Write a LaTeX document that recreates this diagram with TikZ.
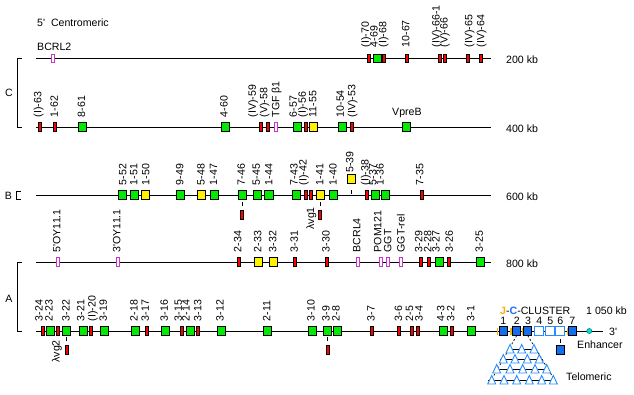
\documentclass[tikz,border=0pt]{standalone}
\usepackage{fontspec}
\setmainfont{Liberation Sans}
\definecolor{vgreen}{RGB}{0,235,0}
\definecolor{pinkc}{RGB}{204,51,204}
\definecolor{cblue}{RGB}{20,110,240}
\definecolor{lblue}{RGB}{40,140,255}
\definecolor{jorange}{RGB}{255,176,0}
\definecolor{enh}{RGB}{0,225,225}
\begin{document}
\begin{tikzpicture}[x=1pt,y=-1pt,font=\fontsize{10.6}{12}\selectfont,
 chrom/.style={line width=1pt},
 el/.style={rectangle,draw=black,line width=0.9pt,inner sep=0pt},
 vr/.style={el,fill=red,minimum width=3.2pt,minimum height=8.2pt},
 vg/.style={el,fill=vgreen,minimum width=8.2pt,minimum height=8.2pt},
 vy/.style={el,fill=yellow,minimum width=8.2pt,minimum height=8.2pt},
 vp/.style={rectangle,draw=pinkc,fill=white,line width=0.9pt,inner sep=0pt,minimum width=3.2pt,minimum height=8.2pt},
 cf/.style={el,fill=cblue,minimum width=8.2pt,minimum height=8.2pt},
 co/.style={rectangle,draw=lblue,fill=white,line width=1pt,inner sep=0pt,minimum width=9.2pt,minimum height=9.2pt},
 jseg/.style={draw=jorange,line width=1.5pt},
 lab/.style={rotate=90,anchor=mid west,inner sep=0pt},
 plab/.style={rotate=90,anchor=mid east,inner sep=0pt},
 txt/.style={anchor=west,inner sep=0pt},
 tick/.style={line width=0.8pt},
 tri/.style={draw=lblue,fill=white,line width=0.9pt},
 brk/.style={line width=1pt}]
\useasboundingbox (0,0) rectangle (634,394);

% header texts
\node[txt] (cen) at (37,23) {5\textquotesingle\ \ Centromeric};
\node[txt] (bcrl2t) at (37,47) {BCRL2};

% brackets
\draw[brk] (22,58.5) -- (17,58.5) -- (17,127) -- (22,127);
\node (lc) at (9,93) {C};
\node (lb) at (8.5,195.5) {B};
\draw[brk] (21,191) -- (16.5,191) -- (16.5,199.5) -- (21,199.5);
\draw[brk] (22,262) -- (17,262) -- (17,331) -- (22,331);
\node (la) at (9,299) {A};

% ---------- line 1 : 200 kb
\coordinate (L1s) at (36,58.5); \coordinate (L1e) at (491,58.5);
\draw[chrom] (L1s) -- (L1e);
\node[txt] (kb200) at (506,60) {200 kb};
\node[vp] (bcrl2) at (53,58.5) {};
\foreach \s/\x/\lx/\t [count=\i] in {vr/369.3/366.3/(I)-70, vg/377.3/375/4-69, vr/384.3/383.8/(I)-68,
  vr/406.7/406.7/10-67, vr/440/437/(IV)-66-1, vr/445.3/445/(V)-66, vr/468.3/469.7/(IV)-65, vr/480.7/481.7/(IV)-64}
 {\node[\s] (a\i) at (\x,58.5) {}; \node[lab] (al\i) at (\lx,47.5) {\t};}

% ---------- line 2 : 400 kb
\coordinate (L2s) at (36,127); \coordinate (L2e) at (491,127);
\draw[chrom] (L2s) -- (L2e);
\node[txt] (kb400) at (506,129) {400 kb};
\foreach \s/\x/\lx/\t [count=\i] in {vr/40/38.7/(I)-63, vr/55/55.3/1-62, vg/82.3/82.5/8-61, vg/225.3/225/4-60,
  vr/261/253.3/(IV)-59, vr/268.3/264.7/(V)-58, vp/276/276.8/TGF β1, vg/297.3/294.2/6-57, vr/306/303.3/(I)-56,
  vy/313.3/313.7/11-55, vg/342.3/341.3/10-54, vr/352/352.8/(IV)-53}
 {\node[\s] (b\i) at (\x,127) {}; \node[lab] (bl\i) at (\lx,117.5) {\t};}
\node[vg] (vpreb) at (406.7,127) {};
\node[txt] (vprebt) at (392,113) {VpreB};

% ---------- line 3 : 600 kb
\coordinate (L3s) at (36,195); \coordinate (L3e) at (491,195);
\draw[chrom] (L3s) -- (L3e);
\node[txt] (kb600) at (506,196.5) {600 kb};
\foreach \s/\x/\lx/\t [count=\i] in {vg/122.7/123.7/5-52, vg/134.3/134.7/1-51, vy/145.3/146.7/1-50, vg/180.3/180.7/9-49,
  vy/201.3/202/5-48, vg/214.3/214.5/1-47, vg/242.3/242.3/7-46, vg/257.3/257.3/5-45, vg/269/269.7/1-44,
  vg/296.3/295/7-43, vr/306/304/(I)-42, vy/320.7/320.7/1-41, vg/333.3/334/1-40, vr/366.7/366/(I)-38,
  vg/375.3/373.7/5-37, vg/385.7/381/1-36, vr/422/420.7/7-35}
 {\node[\s] (c\i) at (\x,195) {}; \node[lab] (cl\i) at (\lx,185.5) {\t};}
\node[vr] (c41) at (310.7,195) {};
% pseudogenes below line 3
\node[vr] (p746) at (242,215) {};
\draw[tick] (242,201.5) -- (242,205.5);
\node[vr] (p141) at (320.3,215) {};
\draw[tick] (320.5,201.5) -- (320.5,205.5);
\node[plab] (vg1) at (311.5,207) {λvg1};
% 5-39 above line
\node[vy] (c539) at (351.7,179) {};
\node[lab] (cl539) at (350.8,173) {5-39};
\draw[tick] (351.7,190) -- (351.7,194);

% ---------- line 4 : 800 kb
\coordinate (L4s) at (36,262); \coordinate (L4e) at (491,262);
\draw[chrom] (L4s) -- (L4e);
\node[txt] (kb800) at (506,263.5) {800 kb};
\foreach \s/\x/\lx/\t [count=\i] in {vp/57.7/57.7/5\textquotesingle OY11.1, vp/117.7/117.7/3\textquotesingle OY11.1,
  vr/239/238.7/2-34, vy/258.3/258.7/2-33, vy/273.3/273.7/3-32, vr/295/295.3/3-31, vr/326.7/327/3-30,
  vp/357.7/357.8/BCRL4, vp/381/378.7/POM121, vp/387.7/388.7/GGT, vp/401.3/402/GGT-rel,
  vr/421/419.7/3-29, vr/429/428.7/2-28, vg/439.3/437/3-27, vr/449/450.3/3-26, vg/480.3/480.3/3-25}
 {\node[\s] (d\i) at (\x,262) {}; \node[lab] (dl\i) at (\lx,252.5) {\t};}

% ---------- line 5 : 1 050 kb
\coordinate (L5s) at (36,331); \coordinate (L5e) at (603,331);
\draw[chrom] (L5s) -- (L5e);
\node[txt] (kb1050) at (586,311) {1 050 kb};
\node[txt] (tp) at (609,331.5) {3\textquotesingle};
% J segments
\foreach \x in {497.3,511,522.7,567.7} \draw[jseg] (\x,327.5) -- (\x,334.5);
\foreach \s/\x/\lx/\t [count=\i] in {vr/42.7/40/3-24, vg/50.3/50/2-23, vg/66.7/67/3-22, vg/83.3/81.7/3-21,
  vr/90.7/93/(I)-20, vg/104.3/104.3/3-19, vg/135.7/135/2-18, vr/146.7/146.3/3-17, vg/165.3/165.3/3-16,
  vr/182/179.3/3-15, vg/190.3/187/2-14, vr/198/198.7/3-13, vg/221.3/221/3-12, vg/267.3/267.7/2-11,
  vg/312.3/312/3-10, vg/327.3/327/3-9, vg/337.3/337/2-8, vr/372/372/3-7, vr/399.3/399.5/3-6,
  vr/412/410.5/2-5, vr/418/420/3-4, vg/443.3/441.7/4-3, vr/452.3/451.7/3-2, vg/471.3/471.7/3-1}
 {\node[\s] (e\i) at (\x,331) {}; \node[lab] (el\i) at (\lx,321.5) {\t};}
\node[vr] (e58) at (58,331) {};
% pseudogenes below line 5
\node[vr] (p322) at (66.7,350) {};
\draw[tick] (66.7,337) -- (66.7,340.5);
\node[plab] (vg2) at (57,340) {λvg2};
\node[vr] (p39) at (327.7,350) {};
\draw[tick] (327.5,337) -- (327.5,340.5);

% C cluster
\node[cf] (C1) at (503.3,331) {};
\node[cf] (C2) at (516.7,331) {};
\node[cf] (C3) at (527.7,331) {};
\node[co] (C4) at (539.3,331) {};
\node[co] (C5) at (550.3,331) {};
\node[co] (C6) at (560.3,331) {};
\node[cf] (C7) at (572.3,331) {};
\node[cf] (C6b) at (560.7,350) {};
\draw[tick] (560.5,339) -- (560.5,342.5);
\foreach \n/\x in {1/503.3,2/516.7,3/528,4/539.3,5/550.3,6/560.3,7/572.3}
  \node (num\n) at (\x,321) {\n};
\node[anchor=base west,inner sep=0pt] (jc) at (500,314.5) {\textcolor{jorange}{\textbf{J}}-\textcolor{cblue}{\textbf{C}}-CLUSTER};
\node[circle,draw=teal,fill=enh,line width=0.6pt,inner sep=0pt,minimum size=5pt] (enhn) at (589.3,331) {};
\node[txt] (enht) at (577,344.5) {Enhancer};
\node[txt] (telo) at (566,377) {Telomeric};

% triangle pyramid
\draw[dashed,dash pattern=on 2pt off 2pt,line width=0.7pt] (C2.south) -- (489,384);
\draw[dashed,dash pattern=on 2pt off 2pt,line width=0.7pt] (C3.south) -- (557,384);
\draw[line width=0.9pt] (507,349) -- (537,349);
\draw[line width=0.9pt] (500,359) -- (543,359);
\draw[line width=0.9pt] (494,369) -- (549,369);
\draw[line width=0.9pt] (488,380) -- (556,380);
\foreach \y/\xs in {349/{510,521.7,534}, 359/{503.3,515,527.3,539.3}, 369/{496.7,510,522.7,535,546.7},
  380/{491.7,504,516.7,529.3,541.7,553.3}}
  \foreach \x in \xs
    \draw[tri] (\x-4,\y+4) -- (\x,\y-4.5) -- (\x+4,\y+4) -- cycle;
\end{tikzpicture}
\end{document}
